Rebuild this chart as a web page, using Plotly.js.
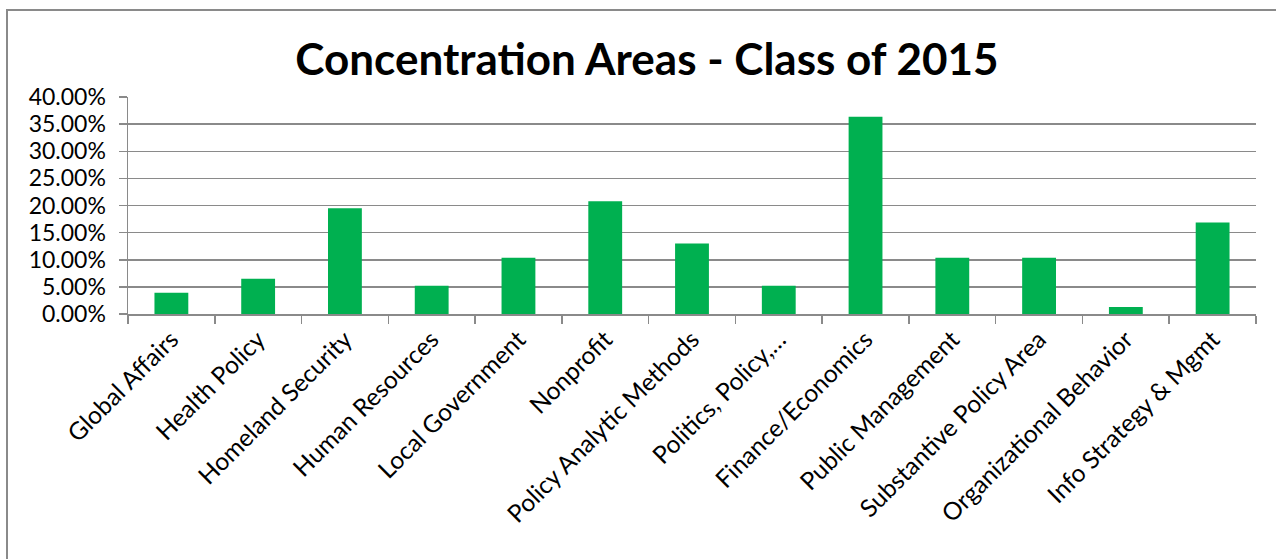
<!DOCTYPE html>
<html>
<head>
<meta charset="utf-8">
<script src="https://cdn.plot.ly/plotly-3.0.1.min.js"></script>
<style>
  html, body { margin: 0; padding: 0; background: #fff; }
  #wrap { position: relative; width: 1276px; height: 559px; overflow: hidden; }
  #chart { position: absolute; left: 0; top: 0; width: 1276px; height: 559px; }
  #frame { position: absolute; left: 6px; top: 9px; width: 1290px; height: 600px;
           border-left: 2px solid #8a8a8a; border-top: 2px solid #8a8a8a; pointer-events: none; }
</style>
</head>
<body>
<div id="wrap">
  <div id="chart"></div>
  <div id="frame"></div>
</div>
<script>
const categories = [
  "Global Affairs", "Health Policy", "Homeland Security", "Human Resources",
  "Local Government", "Nonprofit", "Policy Analytic Methods", "Politics, Policy,…",
  "Finance/Economics", "Public Management", "Substantive Policy Area",
  "Organizational Behavior", "Info Strategy & Mgmt"
];
const shares = [
  0.0390, 0.0649, 0.1948, 0.0519,
  0.1039, 0.2078, 0.1299, 0.0519,
  0.3636, 0.1039, 0.1039,
  0.0130, 0.1688
];
const titleText = "Concentration Areas - Class of 2015";
const yTicks = [0, 0.05, 0.10, 0.15, 0.20, 0.25, 0.30, 0.35, 0.40];

const font = "Lato, 'Open Sans', sans-serif";

Plotly.newPlot("chart", [{
  type: "bar",
  x: categories,
  y: shares,
  marker: { color: "#00B050", line: { width: 0 } },
  hoverinfo: "x+y"
}], {
  width: 1276, height: 559,
  margin: { l: 128, r: 20, t: 97, b: 245 },
  paper_bgcolor: "#ffffff",
  plot_bgcolor: "#ffffff",
  bargap: 0.61,
  showlegend: false,
  title: {
    text: "<b>" + titleText + "</b>",
    font: { family: font, size: 44, color: "#000" },
    x: 0.507, xanchor: "center",
    y: 0.893, yref: "container", yanchor: "middle"
  },
  xaxis: {
    type: "category",
    tickangle: -45,
    tickson: "boundaries",
    ticks: "outside", ticklen: 8, tickcolor: "#8a8a8a", tickwidth: 1.5,
    showline: true, linecolor: "#8a8a8a", linewidth: 1.5,
    showgrid: false,
    tickfont: { family: font, size: 24.5, color: "#000" }
  },
  yaxis: {
    range: [0, 0.4],
    tickvals: yTicks,
    tickformat: ".2%",
    ticks: "outside", ticklen: 8, tickcolor: "#8a8a8a", tickwidth: 1.5,
    ticklabelstandoff: 8,
    showline: true, linecolor: "#8a8a8a", linewidth: 1.5,
    showgrid: true, gridcolor: "#8a8a8a", gridwidth: 1.5,
    zeroline: false,
    tickfont: { family: font, size: 23, color: "#000" }
  }
}, { displayModeBar: false, staticPlot: true });
</script>
</body>
</html>
